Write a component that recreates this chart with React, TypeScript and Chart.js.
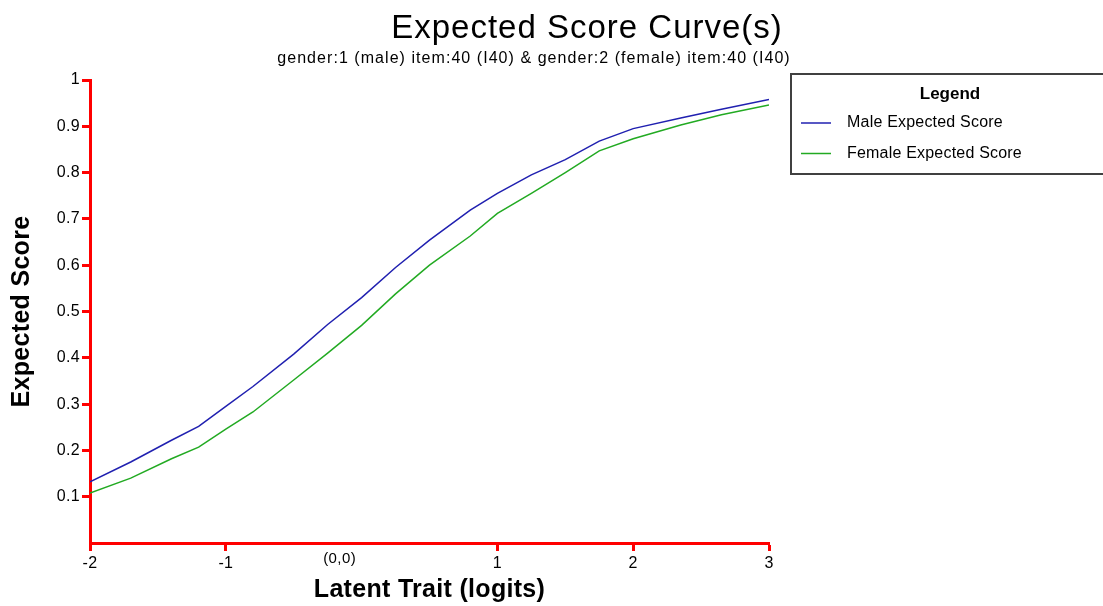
import React, { useEffect, useRef } from "react";
import { Chart, registerables } from "chart.js";

Chart.register(...registerables);

// ---- data ----
const chartTitle = "Expected Score Curve(s)";
const chartSubtitle = "gender:1 (male) item:40 (I40) & gender:2 (female) item:40 (I40)";
const xAxisTitle = "Latent Trait (logits)";
const yAxisTitle = "Expected Score";
const legendTitle = "Legend";
const originLabel = "(0,0)";
const seriesLabels = ["Male Expected Score", "Female Expected Score"];
const seriesColors = ["#2020b0", "#22aa22"];

const theta = [-2, -1.7, -1.4, -1.2, -1, -0.8, -0.5, -0.25, 0, 0.25, 0.5, 0.8, 1, 1.25, 1.5, 1.75, 2, 2.35, 2.65, 3];
const maleScore = [0.132, 0.175, 0.222, 0.252, 0.295, 0.338, 0.408, 0.472, 0.53, 0.595, 0.654, 0.719, 0.755, 0.795, 0.828, 0.868, 0.895, 0.918, 0.937, 0.958];
const femaleScore = [0.108, 0.14, 0.182, 0.207, 0.246, 0.283, 0.352, 0.41, 0.47, 0.538, 0.6, 0.663, 0.712, 0.755, 0.8, 0.847, 0.873, 0.903, 0.925, 0.946];

const FONT = "'Liberation Sans', Arial, sans-serif";

const decorPlugin = {
  id: "decor",
  beforeDraw(chart: any) {
    (chart.ctx as any).letterSpacing = "0.3px";
  },
  afterDraw(chart: any) {
    const ctx = chart.ctx as any;
    ctx.save();
    ctx.fillStyle = "#000";
    // title
    ctx.letterSpacing = "1px";
    ctx.font = `33px ${FONT}`;
    ctx.textAlign = "center";
    ctx.textBaseline = "alphabetic";
    ctx.fillText(chartTitle, 587, 38);
    // subtitle
    ctx.letterSpacing = "1.05px";
    ctx.font = `16px ${FONT}`;
    ctx.fillText(chartSubtitle, 534, 63);

    // origin label
    const xs = chart.scales.x;
    ctx.letterSpacing = "0.4px";
    ctx.font = `15px ${FONT}`;
    ctx.textBaseline = "middle";
    ctx.fillText(originLabel, xs.getPixelForValue(0) - 22, 559);

    // legend box
    ctx.letterSpacing = "0px";
    ctx.strokeStyle = "#404040";
    ctx.lineWidth = 2;
    ctx.strokeRect(791, 74, 330, 100);
    ctx.font = `bold 17px ${FONT}`;
    ctx.textAlign = "center";
    ctx.fillText(legendTitle, 950, 94);
    ctx.font = `16px ${FONT}`;
    ctx.textAlign = "left";
    ctx.letterSpacing = "0.2px";
    chart.data.datasets.forEach((ds: any, i: number) => {
      const y = 123 + i * 30.5;
      ctx.strokeStyle = ds.borderColor;
      ctx.lineWidth = 1.5;
      ctx.beginPath();
      ctx.moveTo(801, y);
      ctx.lineTo(831, y);
      ctx.stroke();
      ctx.fillText(ds.label, 847, y);
    });
    ctx.restore();
  },
};

export default function App() {
  const ref = useRef<HTMLCanvasElement | null>(null);
  useEffect(() => {
    if (!ref.current) return;
    const mk = (ys: number[]) => theta.map((t, i) => ({ x: t, y: ys[i] }));
    const chart = new Chart(ref.current, {
      type: "line",
      data: {
        datasets: [
          { label: seriesLabels[0], data: mk(maleScore), borderColor: seriesColors[0], backgroundColor: seriesColors[0], borderWidth: 1.5, pointRadius: 0, tension: 0 },
          { label: seriesLabels[1], data: mk(femaleScore), borderColor: seriesColors[1], backgroundColor: seriesColors[1], borderWidth: 1.5, pointRadius: 0, tension: 0 },
        ],
      },
      options: {
        animation: false,
        responsive: true,
        maintainAspectRatio: false,
        layout: { padding: { top: 80, right: 334, left: 0, bottom: 0 } },
        plugins: { legend: { display: false }, title: { display: false }, tooltip: { enabled: false } },
        scales: {
          x: {
            type: "linear",
            min: -2,
            max: 3,
            afterFit(scale: any) { scale.height = 63; },
            ticks: {
              stepSize: 1,
              color: "#000",
              padding: 3,
              font: { family: FONT, size: 16 },
              callback: (v: any) => (v === 0 ? "" : String(v)),
            },
            grid: {
              drawOnChartArea: false,
              drawTicks: true,
              tickLength: 8,
              tickWidth: 3,
              tickColor: (c: any) => (c.tick && c.tick.value === 0 ? "rgba(0,0,0,0)" : "#ff0000"),
              color: "#ff0000",
            },
            border: { color: "#ff0000", width: 3 },
            title: {
              display: true,
              text: xAxisTitle,
              color: "#000",
              font: { family: FONT, size: 25, weight: "bold" },
              padding: { top: 0, bottom: 1 },
            },
          },
          y: {
            min: 0,
            max: 1,
            afterFit(scale: any) { scale.width = 90; },
            ticks: {
              stepSize: 0.1,
              color: "#000",
              padding: 2,
              font: { family: FONT, size: 16 },
              callback: (v: any) => (Math.abs(v) < 1e-9 ? "" : String(Number(v.toFixed(1)))),
            },
            grid: {
              drawOnChartArea: false,
              drawTicks: true,
              tickLength: 8,
              tickWidth: 3,
              tickColor: (c: any) => (c.tick && Math.abs(c.tick.value) < 1e-9 ? "rgba(0,0,0,0)" : "#ff0000"),
              color: "#ff0000",
            },
            border: { color: "#ff0000", width: 3 },
            title: {
              display: true,
              text: yAxisTitle,
              color: "#000",
              font: { family: FONT, size: 25, weight: "bold" },
              padding: { top: 7, bottom: 0 },
            },
          },
        },
      },
      plugins: [decorPlugin],
    } as any);
    return () => chart.destroy();
  }, []);
  return (
    <div style={{ position: "absolute", left: 0, top: 0, width: 1103, height: 606, background: "#fff" }}>
      <canvas ref={ref} />
    </div>
  );
}
